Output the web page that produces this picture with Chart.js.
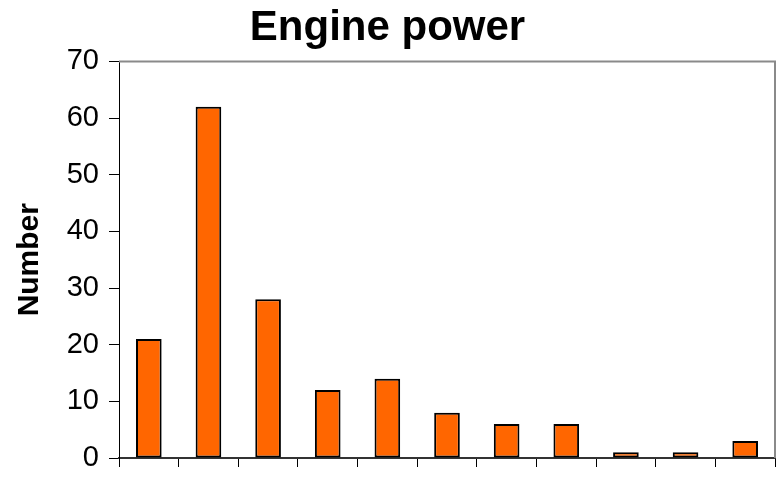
<!DOCTYPE html>
<html>
<head>
<meta charset="utf-8">
<title>Engine power</title>
<script src="https://cdn.jsdelivr.net/npm/chart.js@4/dist/chart.umd.min.js"></script>
<style>
  html, body { margin: 0; padding: 0; background: #ffffff; }
  #wrap { width: 783px; height: 480px; }
</style>
</head>
<body>
<div id="wrap"><canvas id="chart" width="783" height="480"></canvas></div>
<script>
// Engine power classes (labels not shown on the axis)
const categories = ['1', '2', '3', '4', '5', '6', '7', '8', '9', '10', '11'];
// Number of vehicles in each class
const counts = [21, 62, 28, 12, 14, 8, 6, 6, 1, 1, 3];
// Value axis
const yTicks = [0, 10, 20, 30, 40, 50, 60, 70];

const FONT = '"Liberation Sans", Arial, sans-serif';

// Grey frame on the top and right of the plot area
const frame = {
  id: 'frame',
  afterDatasetsDraw(chart) {
    const { ctx, chartArea: a } = chart;
    ctx.save();
    ctx.strokeStyle = '#8a8a8a';
    ctx.lineWidth = 2;
    ctx.beginPath();
    ctx.moveTo(a.left, a.top);
    ctx.lineTo(a.right, a.top);
    ctx.lineTo(a.right, a.bottom);
    ctx.stroke();
    ctx.restore();
  }
};

new Chart(document.getElementById('chart'), {
  type: 'bar',
  data: {
    labels: categories,
    datasets: [{
      data: counts,
      backgroundColor: '#ff6600',
      borderColor: '#000000',
      borderWidth: 2,
      borderSkipped: false,
      categoryPercentage: 1,
      barPercentage: 0.43
    }]
  },
  options: {
    responsive: false,
    animation: false,
    devicePixelRatio: 1,
    layout: { padding: { top: 0, right: 8, bottom: 0, left: 0 } },
    plugins: {
      legend: { display: false },
      tooltip: { enabled: false },
      title: {
        display: true,
        text: 'Engine power',
        color: '#000000',
        font: { family: FONT, size: 42, weight: 'bold' },
        padding: { top: 3, bottom: 8 }
      }
    },
    scales: {
      x: {
        offset: true,
        grid: {
          offset: true,
          drawOnChartArea: false,
          drawTicks: true,
          tickLength: 9,
          tickColor: '#000000',
          tickWidth: 1
        },
        border: { display: true, color: '#333333', width: 2 },
        ticks: { display: false },
        afterFit(scale) { scale.height = 22; }
      },
      y: {
        min: 0,
        max: 70,
        afterBuildTicks(scale) { scale.ticks = yTicks.map(v => ({ value: v })); },
        grid: {
          drawOnChartArea: false,
          drawTicks: true,
          tickLength: 10,
          tickColor: '#000000',
          tickWidth: 1
        },
        border: { display: true, color: '#000000', width: 1 },
        ticks: {
          color: '#000000',
          padding: 10,
          font: { family: FONT, size: 29 }
        },
        title: {
          display: true,
          text: 'Number',
          color: '#000000',
          font: { family: FONT, size: 30, weight: 'bold' },
          padding: { top: 12, bottom: 0 }
        },
        afterFit(scale) {
          scale.width = 119;
          scale.paddingTop = 0;
          scale.paddingBottom = 0;
        }
      }
    }
  },
  plugins: [frame]
});
</script>
</body>
</html>
